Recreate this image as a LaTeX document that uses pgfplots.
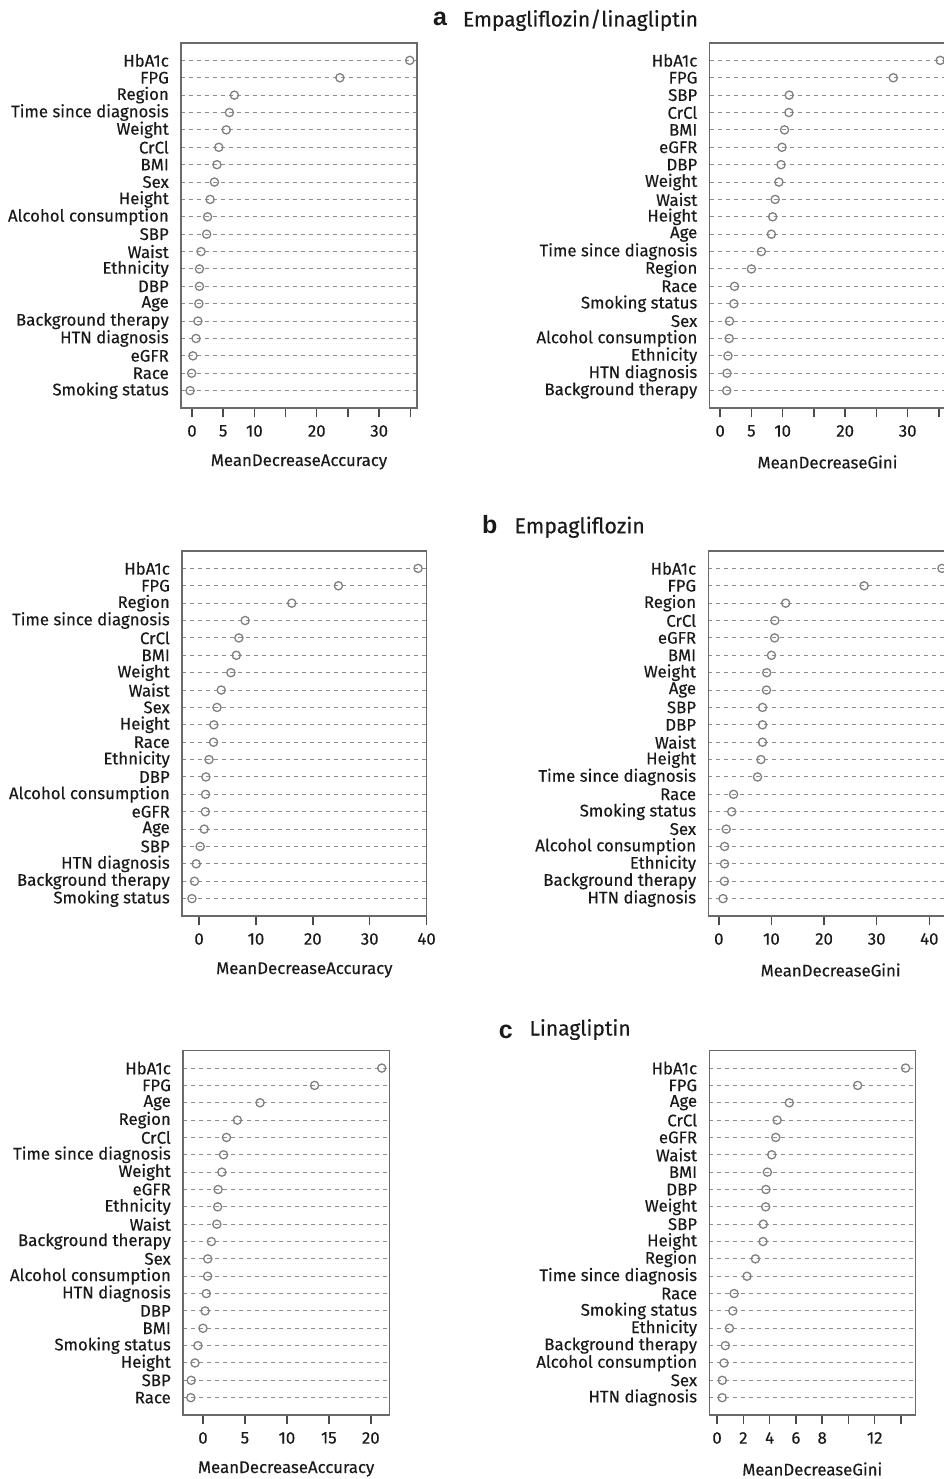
\documentclass[border=0pt]{standalone}
\usepackage{pgfplots}
\pgfplotsset{compat=1.18}
\usepackage{fontspec}
\setmainfont{Fira Sans}[FakeBold=0.3]
\newfontfamily\titlefont{Liberation Sans}
\definecolor{boxgray}{HTML}{6A6A6A}
\definecolor{gridgray}{HTML}{8C8C8C}
\definecolor{markgray}{HTML}{808080}
\definecolor{tickgray}{HTML}{4A4A4A}
\definecolor{txt}{HTML}{1A1A1A}
\pgfplotsset{dotstyle/.style={
  scale only axis, anchor=north west, height=365pt,
  ymin=0, ymax=21, y dir=reverse, ytick={1,...,20},
  ymajorgrids, major grid style={dash pattern=on 4pt off 4pt, draw=gridgray, line width=1pt},
  ytick style={draw=none},
  xtick pos=bottom, ytick pos=left,
  tick align=outside, major tick length=9pt,
  xtick style={draw=tickgray, line width=1.4pt},
  axis line style={draw=boxgray, line width=1.5pt},
  tick label style={font=\fontsize{16.8}{18}\selectfont, text=txt},
  /pgf/number format/assume math mode=true,
  yticklabel style={inner sep=0pt, xshift=-3pt},
  xticklabel style={inner sep=0pt, yshift=-8pt},
  xlabel style={font=\fontsize{16.8}{18}\selectfont, text=txt, at={(axis description cs:0.5,0)}, anchor=center, yshift=-54pt},
}}
\pgfplotsset{dots/.style={markgray, only marks, mark=o, mark size=4.1pt, line width=1.3pt}}
\begin{document}
\begin{tikzpicture}
\useasboundingbox (0pt,0pt) rectangle (944pt,-1479pt);
\clip (0pt,0pt) rectangle (944pt,-1479pt);
% titles
\node[anchor=base west, inner sep=0pt, text=txt] at (433pt,-26pt) {\titlefont\bfseries\fontsize{25}{25}\selectfont a};
\node[anchor=base west, inner sep=0pt, text=txt] at (462.7pt,-26.5pt) {\fontsize{21}{22}\selectfont Empagliflozin/linagliptin};
\node[anchor=base west, inner sep=0pt, text=txt] at (482pt,-533.3pt) {\titlefont\bfseries\fontsize{25}{25}\selectfont b};
\node[anchor=base west, inner sep=0pt, text=txt] at (514.3pt,-533.3pt) {\fontsize{21.5}{22}\selectfont Empagliflozin};
\node[anchor=base west, inner sep=0pt, text=txt] at (498.7pt,-1038pt) {\titlefont\bfseries\fontsize{25}{25}\selectfont c};
\node[anchor=base west, inner sep=0pt, text=txt] at (529.3pt,-1035.5pt) {\fontsize{21}{22}\selectfont Linagliptin};

% ---- a left
\begin{axis}[dotstyle, at={(181pt,-43pt)}, width=236pt,
  xmin=-1.76, xmax=36.06,
  xtick={0,5,...,35}, xticklabels={0,5,10,,20,,30,},
  yticklabels={HbA1c,FPG,Region,Time since diagnosis,Weight,CrCl,BMI,Sex,Height,Alcohol consumption,SBP,Waist,Ethnicity,DBP,Age,Background therapy,HTN diagnosis,eGFR,Race,Smoking status},
  xlabel={MeanDecreaseAccuracy}]
\addplot[dots] coordinates {(34.9,1) (23.7,2) (6.8,3) (6.0,4) (5.5,5) (4.3,6) (4.0,7) (3.6,8) (2.9,9) (2.5,10) (2.35,11) (1.45,12) (1.2,13) (1.2,14) (1.1,15) (0.95,16) (0.65,17) (0.15,18) (-0.05,19) (-0.3,20)};
\end{axis}
% ---- a right
\begin{axis}[dotstyle, at={(709.5pt,-43pt)}, width=236pt,
  xmin=-1.7, xmax=36.05,
  xtick={0,5,...,35}, xticklabels={0,5,10,,20,,30,},
  yticklabels={HbA1c,FPG,SBP,CrCl,BMI,eGFR,DBP,Weight,Waist,Height,Age,Time since diagnosis,Region,Race,Smoking status,Sex,Alcohol consumption,Ethnicity,HTN diagnosis,Background therapy},
  xlabel={MeanDecreaseGini}]
\addplot[dots] coordinates {(35.2,1) (27.7,2) (11.05,3) (11.0,4) (10.3,5) (9.9,6) (9.75,7) (9.4,8) (8.8,9) (8.4,10) (8.2,11) (6.6,12) (5.0,13) (2.3,14) (2.2,15) (1.5,16) (1.45,17) (1.25,18) (1.1,19) (1.05,20)};
\end{axis}
% ---- b left
\begin{axis}[dotstyle, at={(182pt,-551pt)}, width=244.7pt,
  xmin=-3.0, xmax=40.02,
  xtick={0,10,...,40},
  yticklabels={HbA1c,FPG,Region,Time since diagnosis,CrCl,BMI,Weight,Waist,Sex,Height,Race,Ethnicity,DBP,Alcohol consumption,eGFR,Age,SBP,HTN diagnosis,Background therapy,Smoking status},
  xlabel={MeanDecreaseAccuracy}]
\addplot[dots] coordinates {(38.5,1) (24.5,2) (16.3,3) (8.1,4) (7.0,5) (6.55,6) (5.6,7) (3.9,8) (3.15,9) (2.6,10) (2.55,11) (1.75,12) (1.2,13) (1.15,14) (1.1,15) (0.9,16) (0.2,17) (-0.5,18) (-0.8,19) (-1.25,20)};
\end{axis}
% ---- b right
\begin{axis}[dotstyle, at={(708.3pt,-551pt)}, width=244.7pt,
  xmin=-2.0, xmax=44.5,
  xtick={0,10,...,40},
  yticklabels={HbA1c,FPG,Region,CrCl,eGFR,BMI,Weight,Age,SBP,DBP,Waist,Height,Time since diagnosis,Race,Smoking status,Sex,Alcohol consumption,Ethnicity,Background therapy,HTN diagnosis},
  xlabel={MeanDecreaseGini}]
\addplot[dots] coordinates {(42.4,1) (27.6,2) (12.7,3) (10.65,4) (10.6,5) (10.0,6) (9.1,7) (9.05,8) (8.3,9) (8.3,10) (8.3,11) (8.0,12) (7.35,13) (2.8,14) (2.45,15) (1.4,16) (1.1,17) (1.08,18) (1.05,19) (0.8,20)};
\end{axis}
% ---- c left
\begin{axis}[dotstyle, at={(183pt,-1050.7pt)}, width=206.3pt, height=364.3pt,
  xmin=-2.38, xmax=22.2,
  xtick={0,5,...,20},
  yticklabels={HbA1c,FPG,Age,Region,CrCl,Time since diagnosis,Weight,eGFR,Ethnicity,Waist,Background therapy,Sex,Alcohol consumption,HTN diagnosis,DBP,BMI,Smoking status,Height,SBP,Race},
  xlabel={MeanDecreaseAccuracy}]
\addplot[dots] coordinates {(21.3,1) (13.3,2) (6.8,3) (4.1,4) (2.8,5) (2.45,6) (2.25,7) (1.8,8) (1.75,9) (1.65,10) (1.0,11) (0.57,12) (0.55,13) (0.4,14) (0.25,15) (0.0,16) (-0.6,17) (-0.95,18) (-1.4,19) (-1.45,20)};
\end{axis}
% ---- c right
\begin{axis}[dotstyle, at={(709.3pt,-1050.7pt)}, width=206pt, height=364.3pt,
  xmin=-0.59, xmax=15.09,
  xtick={0,2,...,14}, xticklabels={0,2,4,6,8,,12,},
  yticklabels={HbA1c,FPG,Age,CrCl,eGFR,Waist,BMI,DBP,Weight,SBP,Height,Region,Time since diagnosis,Race,Smoking status,Ethnicity,Background therapy,Alcohol consumption,Sex,HTN diagnosis},
  xlabel={MeanDecreaseGini}]
\addplot[dots] coordinates {(14.35,1) (10.7,2) (5.5,3) (4.57,4) (4.47,5) (4.16,6) (3.83,7) (3.72,8) (3.7,9) (3.52,10) (3.5,11) (2.92,12) (2.28,13) (1.3,14) (1.2,15) (0.94,16) (0.63,17) (0.53,18) (0.4,19) (0.39,20)};
\end{axis}
\end{tikzpicture}
\end{document}
